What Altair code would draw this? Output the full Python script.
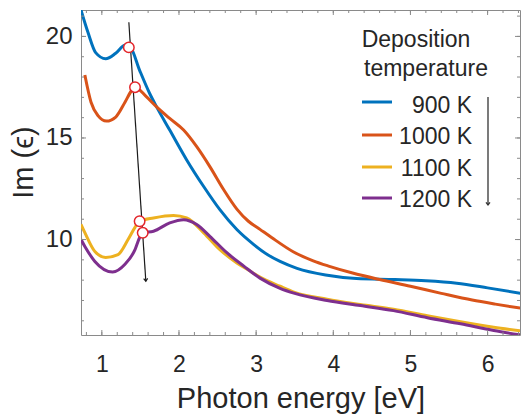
import altair as alt
import pandas as pd

# ---------------- data ----------------
series = ["900 K", "1000 K", "1100 K", "1200 K"]
colors = ["#0072BD", "#D95319", "#EDB120", "#7E2F8E"]

e900 = [0.73, 0.82, 0.92, 1.05, 1.18, 1.30, 1.37, 1.49, 1.62, 1.71, 1.88, 2.10, 2.32, 2.53, 2.75,
        2.97, 3.15, 3.31, 3.53, 3.90, 4.30, 4.80, 5.20, 5.60, 6.00, 6.43]
v900 = [21.3, 20.2, 19.2, 18.9, 19.17, 19.56, 19.46, 18.33, 17.19, 16.53, 15.39, 13.92, 12.61, 11.47, 10.49,
        9.75, 9.25, 8.92, 8.58, 8.25, 8.08, 8.03, 7.97, 7.85, 7.62, 7.35]

e1000 = [0.78, 0.86, 0.95, 1.06, 1.18, 1.30, 1.38, 1.43, 1.58, 1.71, 1.88, 2.06, 2.23, 2.40, 2.58,
         2.75, 2.90, 3.05, 3.20, 3.48, 3.74, 3.95, 4.25, 4.60, 5.00, 5.40, 5.80, 6.10, 6.43]
v1000 = [18.1, 16.76, 16.1, 15.83, 16.03, 16.76, 17.3, 17.5, 17.02, 16.53, 15.96, 15.39, 14.57, 13.59, 12.45,
         11.5, 10.9, 10.5, 10.1, 9.4, 8.95, 8.68, 8.35, 8.03, 7.7, 7.35, 7.02, 6.82, 6.62]

e1100 = [0.73, 0.78, 0.91, 1.05, 1.21, 1.34, 1.43, 1.49, 1.67, 1.93, 2.10, 2.32, 2.53, 2.75, 2.90,
         3.05, 3.31, 3.50, 3.92, 4.35, 4.78, 5.22, 5.65, 6.08, 6.43]
v1100 = [10.75, 10.34, 9.41, 9.12, 9.26, 10.0, 10.6, 10.9, 11.06, 11.18, 11.06, 10.33, 9.5, 8.85, 8.5,
         8.15, 7.7, 7.4, 7.06, 6.8, 6.57, 6.25, 5.95, 5.68, 5.5]

e1200 = [0.73, 0.78, 0.91, 1.14, 1.30, 1.43, 1.49, 1.53, 1.67, 1.88, 2.06, 2.23, 2.40, 2.62, 2.84,
         3.05, 3.31, 3.50, 3.92, 4.35, 4.78, 5.22, 5.65, 6.08, 6.43]
v1200 = [10.0, 9.66, 8.92, 8.4, 8.78, 9.5, 10.1, 10.33, 10.41, 10.82, 10.98, 10.74, 10.16, 9.35, 8.69,
         8.1, 7.6, 7.35, 7.0, 6.75, 6.5, 6.15, 5.85, 5.52, 5.3]

marker_e = [1.35, 1.43, 1.49, 1.53]
marker_v = [19.46, 17.5, 10.9, 10.33]

arrow_e = [1.35, 1.57]
arrow_v = [20.7, 7.95]

x_major = [1, 2, 3, 4, 5, 6]
y_major = [10, 15, 20]
x_minor = [round(0.8 + 0.2 * i, 1) for i in range(29)]
y_minor = list(range(6, 22))

# ---------------- frames ----------------
rows = []
for name, es, vs in zip(series, [e900, e1000, e1100, e1200], [v900, v1000, v1100, v1200]):
    for e, v in zip(es, vs):
        rows.append({"series": name, "energy": e, "im": v})
df = pd.DataFrame(rows)
mk = pd.DataFrame({"energy": marker_e, "im": marker_v})
ar = pd.DataFrame({"energy": arrow_e, "im": arrow_v, "o": [0, 1]})
ar_tip = ar.iloc[[1]]

FONT = "Liberation Sans"
TXT = "#262626"
GRAY = "#8a8a8a"
W, H = 439, 325

xs = alt.Scale(domain=[0.73, 6.42], nice=False, zero=False)
ys = alt.Scale(domain=[5.3, 21.3], nice=False, zero=False)

x_main = alt.Axis(values=x_major, format="d", ticks=False, domain=False, grid=False,
                  labelFont=FONT, labelFontSize=23, labelColor=TXT, labelPadding=18,
                  title="Photon energy [eV]", titleFont=FONT, titleFontSize=29,
                  titleFontWeight="normal", titleColor=TXT, titlePadding=8)
y_main = alt.Axis(values=y_major, format="d", ticks=False, domain=False, grid=False,
                  labelFont=FONT, labelFontSize=24, labelColor=TXT, labelPadding=9,
                  title="Im (ϵ)", titleFont=FONT, titleFontSize=29, titleY=152,
                  titleFontWeight="normal", titleColor=TXT, titlePadding=7)

lines = alt.Chart(df).mark_line(strokeWidth=3, interpolate="monotone", clip=True).encode(
    x=alt.X("energy:Q", scale=xs, axis=x_main),
    y=alt.Y("im:Q", scale=ys, axis=y_main),
    color=alt.Color("series:N", scale=alt.Scale(domain=series, range=colors), legend=None),
    detail="series:N",
)

# inward frame ticks, placed through the data scales
xt_major = pd.DataFrame({"energy": x_major})
xt_minor = pd.DataFrame({"energy": x_minor})
yt_major = pd.DataFrame({"im": y_major})
yt_minor = pd.DataFrame({"im": y_minor})


def xticks(d, length):
    enc_x = alt.X("energy:Q", scale=xs, axis=None)
    bot = alt.Chart(d).mark_rule(color=GRAY, strokeWidth=1).encode(
        x=enc_x, y=alt.value(H), y2=alt.value(H - length))
    top = alt.Chart(d).mark_rule(color=GRAY, strokeWidth=1).encode(
        x=enc_x, y=alt.value(0), y2=alt.value(length))
    return [bot, top]


def yticks(d, length):
    enc_y = alt.Y("im:Q", scale=ys, axis=None)
    left = alt.Chart(d).mark_rule(color=GRAY, strokeWidth=1).encode(
        y=enc_y, x=alt.value(0), x2=alt.value(length))
    right = alt.Chart(d).mark_rule(color=GRAY, strokeWidth=1).encode(
        y=enc_y, x=alt.value(W), x2=alt.value(W - length))
    return [left, right]


ticks = xticks(xt_major, 5) + xticks(xt_minor, 3) + yticks(yt_major, 5) + yticks(yt_minor, 3)

arrow_line = alt.Chart(ar).mark_line(color="#1a1a1a", strokeWidth=1.2).encode(
    x=alt.X("energy:Q", scale=xs, axis=None), y=alt.Y("im:Q", scale=ys, axis=None), order="o:Q")
arrow_head = alt.Chart(ar_tip).mark_point(
    shape="M-0.5,-0.65L0,0L0.5,-0.65", filled=False, stroke="#1a1a1a", strokeWidth=1.2,
    size=64, angle=356.3, opacity=1).encode(
    x=alt.X("energy:Q", scale=xs, axis=None), y=alt.Y("im:Q", scale=ys, axis=None))

markers = alt.Chart(mk).mark_point(shape="circle", filled=True, fill="white", stroke="#e3262b",
                                   strokeWidth=1.5, size=110, opacity=1).encode(
    x=alt.X("energy:Q", scale=xs, axis=None), y=alt.Y("im:Q", scale=ys, axis=None))

# ---------------- legend (manual) ----------------
LFS = 23
leg = []
leg.append(alt.Chart(pd.DataFrame({"t": ["Deposition"]})).mark_text(
    font=FONT, fontSize=LFS, color=TXT, align="center", baseline="alphabetic").encode(
    text="t:N", x=alt.value(335), y=alt.value(37)))
leg.append(alt.Chart(pd.DataFrame({"t": ["temperature"]})).mark_text(
    font=FONT, fontSize=LFS, color=TXT, align="center", baseline="alphabetic").encode(
    text="t:N", x=alt.value(345), y=alt.value(66)))
line_y = [92, 125, 157, 188]
text_y = [103, 134, 166, 197]
for name, col, ly, ty in zip(series, colors, line_y, text_y):
    d = pd.DataFrame({"t": [name]})
    leg.append(alt.Chart(d).mark_rule(color=col, strokeWidth=3).encode(
        x=alt.value(281), x2=alt.value(311), y=alt.value(ly)))
    leg.append(alt.Chart(d).mark_text(font=FONT, fontSize=LFS, color=TXT, align="right",
                                      baseline="alphabetic").encode(
        text="t:N", x=alt.value(391), y=alt.value(ty)))
leg_d = pd.DataFrame({"t": ["a"]})
leg.append(alt.Chart(leg_d).mark_rule(color="#333333", strokeWidth=1.3).encode(
    x=alt.value(407), y=alt.value(87), y2=alt.value(195)))
leg.append(alt.Chart(leg_d).mark_point(
    shape="M-0.5,-0.65L0,0L0.5,-0.65", filled=False, stroke="#333333", strokeWidth=1.3,
    size=64, opacity=1).encode(x=alt.value(407), y=alt.value(195)))

chart = alt.layer(lines, *ticks, arrow_line, arrow_head, markers, *leg).resolve_axis(
    x="independent", y="independent"
).properties(
    width=W, height=H,
    autosize=alt.AutoSizeParams(type="none"),
    padding={"left": 81, "top": 10, "right": 10, "bottom": 81},
    background="white",
).configure_view(stroke=GRAY, strokeWidth=1)

chart.save("out.html", embed_options={"renderer": "svg", "actions": False})
